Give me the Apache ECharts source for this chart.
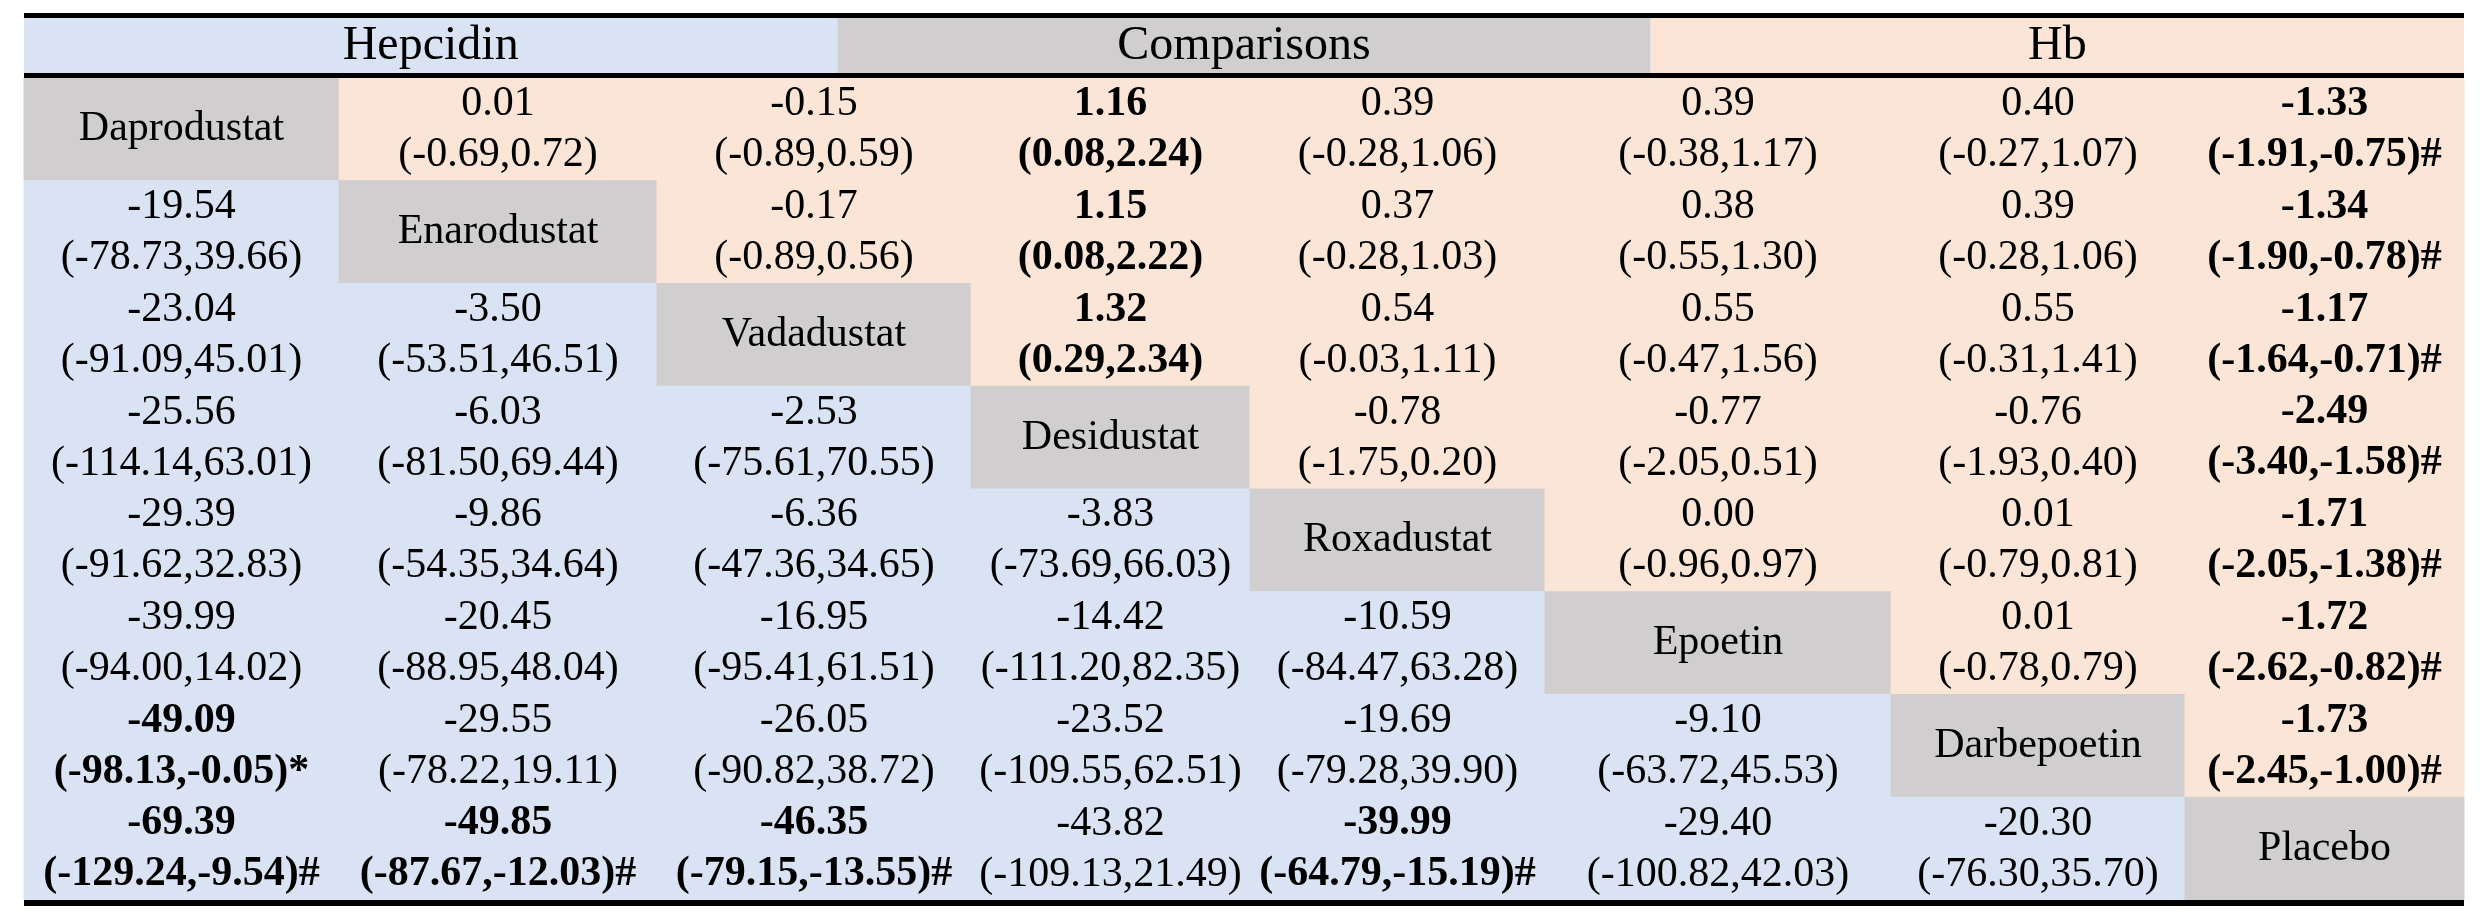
<!DOCTYPE html>
<html>
<head>
<meta charset="utf-8">
<script src="https://cdn.jsdelivr.net/npm/echarts@6/dist/echarts.min.js"></script>
<style>
  html, body { margin: 0; padding: 0; background: #fff; }
  #chart { width: 2480px; height: 922px; }
</style>
</head>
<body>
<div id="chart"></div>
<script>
// Treatments, in table order (diagonal)
const drugs = ['Daprodustat', 'Enarodustat', 'Vadadustat', 'Desidustat', 'Roxadustat', 'Epoetin', 'Darbepoetin', 'Placebo'];
const blocks = ['Hepcidin', 'Comparisons', 'Hb'];

// Hb (upper triangle): row i holds columns i+1..7
const hbEst = [
    [0.01, -0.15, 1.16, 0.39, 0.39, 0.40, -1.33],
    [-0.17, 1.15, 0.37, 0.38, 0.39, -1.34],
    [1.32, 0.54, 0.55, 0.55, -1.17],
    [-0.78, -0.77, -0.76, -2.49],
    [0.00, 0.01, -1.71],
    [0.01, -1.72],
    [-1.73]
];
const hbLow = [
    [-0.69, -0.89, 0.08, -0.28, -0.38, -0.27, -1.91],
    [-0.89, 0.08, -0.28, -0.55, -0.28, -1.90],
    [0.29, -0.03, -0.47, -0.31, -1.64],
    [-1.75, -2.05, -1.93, -3.40],
    [-0.96, -0.79, -2.05],
    [-0.78, -2.62],
    [-2.45]
];
const hbHigh = [
    [0.72, 0.59, 2.24, 1.06, 1.17, 1.07, -0.75],
    [0.56, 2.22, 1.03, 1.30, 1.06, -0.78],
    [2.34, 1.11, 1.56, 1.41, -0.71],
    [0.20, 0.51, 0.40, -1.58],
    [0.97, 0.81, -1.38],
    [0.79, -0.82],
    [-1.00]
];
const hbMark = [
    ['', '', '', '', '', '', '#'],
    ['', '', '', '', '', '#'],
    ['', '', '', '', '#'],
    ['', '', '', '#'],
    ['', '', '#'],
    ['', '#'],
    ['#']
];

// Hepcidin (lower triangle): row i+1 holds columns 0..i
const hepEst = [
    [-19.54],
    [-23.04, -3.50],
    [-25.56, -6.03, -2.53],
    [-29.39, -9.86, -6.36, -3.83],
    [-39.99, -20.45, -16.95, -14.42, -10.59],
    [-49.09, -29.55, -26.05, -23.52, -19.69, -9.10],
    [-69.39, -49.85, -46.35, -43.82, -39.99, -29.40, -20.30]
];
const hepLow = [
    [-78.73],
    [-91.09, -53.51],
    [-114.14, -81.50, -75.61],
    [-91.62, -54.35, -47.36, -73.69],
    [-94.00, -88.95, -95.41, -111.20, -84.47],
    [-98.13, -78.22, -90.82, -109.55, -79.28, -63.72],
    [-129.24, -87.67, -79.15, -109.13, -64.79, -100.82, -76.30]
];
const hepHigh = [
    [39.66],
    [45.01, 46.51],
    [63.01, 69.44, 70.55],
    [32.83, 34.64, 34.65, 66.03],
    [14.02, 48.04, 61.51, 82.35, 63.28],
    [-0.05, 19.11, 38.72, 62.51, 39.90, 45.53],
    [-9.54, -12.03, -13.55, 21.49, -15.19, 42.03, 35.70]
];
const hepMark = [
    [''],
    ['', ''],
    ['', '', ''],
    ['', '', '', ''],
    ['', '', '', '', ''],
    ['*', '', '', '', '', ''],
    ['#', '#', '#', '', '#', '', '']
];

// layout (axis units are pixels)
const colW = [315, 318, 314, 279, 295, 346, 294, 279];
const colEdges = colW.reduce((acc, w) => acc.concat(acc[acc.length - 1] + w), [0]);
const tableW = colEdges[colEdges.length - 1];
const headTop = 5, headBottom = 60, bodyTop = 65, rowH = 102.75;
const bodyBottom = bodyTop + rowH * drugs.length;

const FONT = '"Liberation Serif", "Times New Roman", serif';
const BLUE = '#DAE3F3', PEACH = '#FBE5D6', GRAY = '#D0CECE';

const fmt = v => v.toFixed(2);

function cellInfo(r, c) {
    if (r === c) return { fill: GRAY, lines: [drugs[r]], bold: false };
    let est, lo, hi, mark, fill;
    if (c > r) {
        est = hbEst[r][c - r - 1]; lo = hbLow[r][c - r - 1]; hi = hbHigh[r][c - r - 1]; mark = hbMark[r][c - r - 1];
        fill = PEACH;
    } else {
        est = hepEst[r - 1][c]; lo = hepLow[r - 1][c]; hi = hepHigh[r - 1][c]; mark = hepMark[r - 1][c];
        fill = BLUE;
    }
    return {
        fill,
        lines: [fmt(est), '(' + fmt(lo) + ',' + fmt(hi) + ')' + mark],
        bold: lo > 0 || hi < 0
    };
}

const cellData = [];
drugs.forEach((d, r) => drugs.forEach((d2, c) => cellData.push([c, r])));

const chart = echarts.init(document.getElementById('chart'), null, { renderer: 'canvas' });

chart.setOption({
    animation: false,
    backgroundColor: '#fff',
    grid: { left: 24, top: 13, width: 2440, height: 893 },
    xAxis: { type: 'value', min: 0, max: tableW, show: false },
    yAxis: { type: 'value', min: 0, max: 893, inverse: true, show: false },
    series: [
        {
            // header band
            type: 'custom',
            data: blocks.map((b, i) => [i, 0]),
            renderItem: (params, api) => {
                const i = api.value(0);
                const p0 = api.coord([tableW * i / 3, headTop]);
                const p1 = api.coord([tableW * (i + 1) / 3, headBottom]);
                return {
                    type: 'group',
                    children: [
                        { type: 'rect', shape: { x: p0[0], y: p0[1], width: p1[0] - p0[0], height: p1[1] - p0[1] },
                          style: { fill: [BLUE, GRAY, PEACH][i] } },
                        { type: 'text', style: { text: blocks[i], x: (p0[0] + p1[0]) / 2, y: (p0[1] + p1[1]) / 2 + 1,
                          fill: '#000', fontSize: 48, fontFamily: FONT, align: 'center', verticalAlign: 'middle' } }
                    ]
                };
            }
        },
        {
            // matrix cells
            type: 'custom',
            data: cellData,
            renderItem: (params, api) => {
                const c = api.value(0), r = api.value(1);
                const p0 = api.coord([colEdges[c], bodyTop + r * rowH]);
                const p1 = api.coord([colEdges[c + 1], bodyTop + (r + 1) * rowH]);
                const info = cellInfo(r, c);
                const cx = (p0[0] + p1[0]) / 2, cy = (p0[1] + p1[1]) / 2;
                const children = [
                    { type: 'rect', shape: { x: p0[0], y: p0[1], width: p1[0] - p0[0], height: p1[1] - p0[1] },
                      style: { fill: info.fill, stroke: info.fill, lineWidth: 1 } }
                ];
                const offs = info.lines.length === 1 ? [0] : [-25, 26];
                info.lines.forEach((t, k) => children.push({
                    type: 'text',
                    style: { text: t, x: cx, y: cy + offs[k], fill: '#000', fontSize: 42, fontFamily: FONT,
                             fontWeight: info.bold ? 'bold' : 'normal', align: 'center', verticalAlign: 'middle' }
                }));
                return { type: 'group', children };
            }
        },
        {
            // thick horizontal rules
            type: 'custom',
            data: [[0, 0, 5], [0, headBottom, 5], [0, bodyBottom, 6]],
            z: 5,
            renderItem: (params, api) => {
                const p0 = api.coord([0, api.value(1)]);
                const p1 = api.coord([tableW, api.value(1) + api.value(2)]);
                return { type: 'rect', shape: { x: p0[0], y: p0[1], width: p1[0] - p0[0], height: p1[1] - p0[1] },
                         style: { fill: '#000' } };
            }
        }
    ]
});
</script>
</body>
</html>
